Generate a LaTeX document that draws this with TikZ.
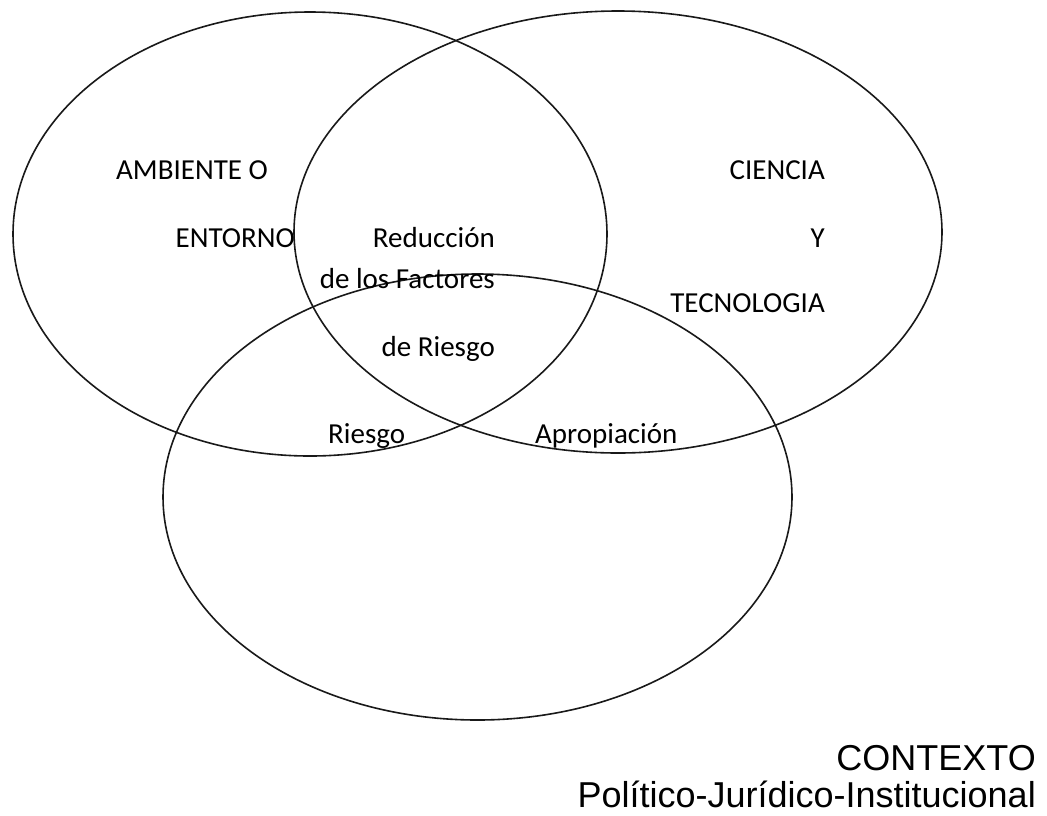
\documentclass[tikz,border=0pt]{standalone}
\usepackage{fontspec}
\setmainfont{Carlito}
\newfontfamily\arialfont{Liberation Sans}
\usetikzlibrary{shapes.geometric}
\tikzset{
  venn/.style={draw=black!90, line width=1.6pt, ellipse, inner sep=0pt, minimum width=#1},
  lbl/.style={inner sep=0pt, font=\fontsize{29}{35}\selectfont},
  ctx/.style={inner sep=0pt, font=\arialfont\fontsize{36}{42}\selectfont, anchor=base east}
}
\begin{document}
\begin{tikzpicture}[x=1pt,y=-1pt]
\useasboundingbox (0,0) rectangle (1047,815);
% circles
\node[venn=594pt, minimum height=444pt] (amb) at (310,234) {};
\node[venn=648pt, minimum height=442pt] (cie) at (618,232) {};
\node[venn=629pt, minimum height=446pt] (ctxe) at (477.5,497) {};
% labels
\node[lbl, anchor=base west] (t1) at (116,179) {AMBIENTE O};
\node[lbl, anchor=base east] (t2) at (295,247) {ENTORNO};
\node[lbl, anchor=base east] (t3) at (495,247) {Reducción};
\node[lbl, anchor=base east] (t4) at (495,288) {de los Factores};
\node[lbl, anchor=base east] (t5) at (495,356) {de Riesgo};
\node[lbl, anchor=base east] (t6) at (825,179) {CIENCIA};
\node[lbl, anchor=base east] (t7) at (825,247) {Y};
\node[lbl, anchor=base east] (t8) at (825,312) {TECNOLOGIA};
\node[lbl, anchor=base west] (t9) at (328,443) {Riesgo};
\node[lbl, anchor=base west] (t10) at (535,443) {Apropiación};
\node[ctx] (c1) at (1036,770) {CONTEXTO};
\node[ctx] (c2) at (1036,807) {Político-Jurídico-Institucional};
\end{tikzpicture}
\end{document}
